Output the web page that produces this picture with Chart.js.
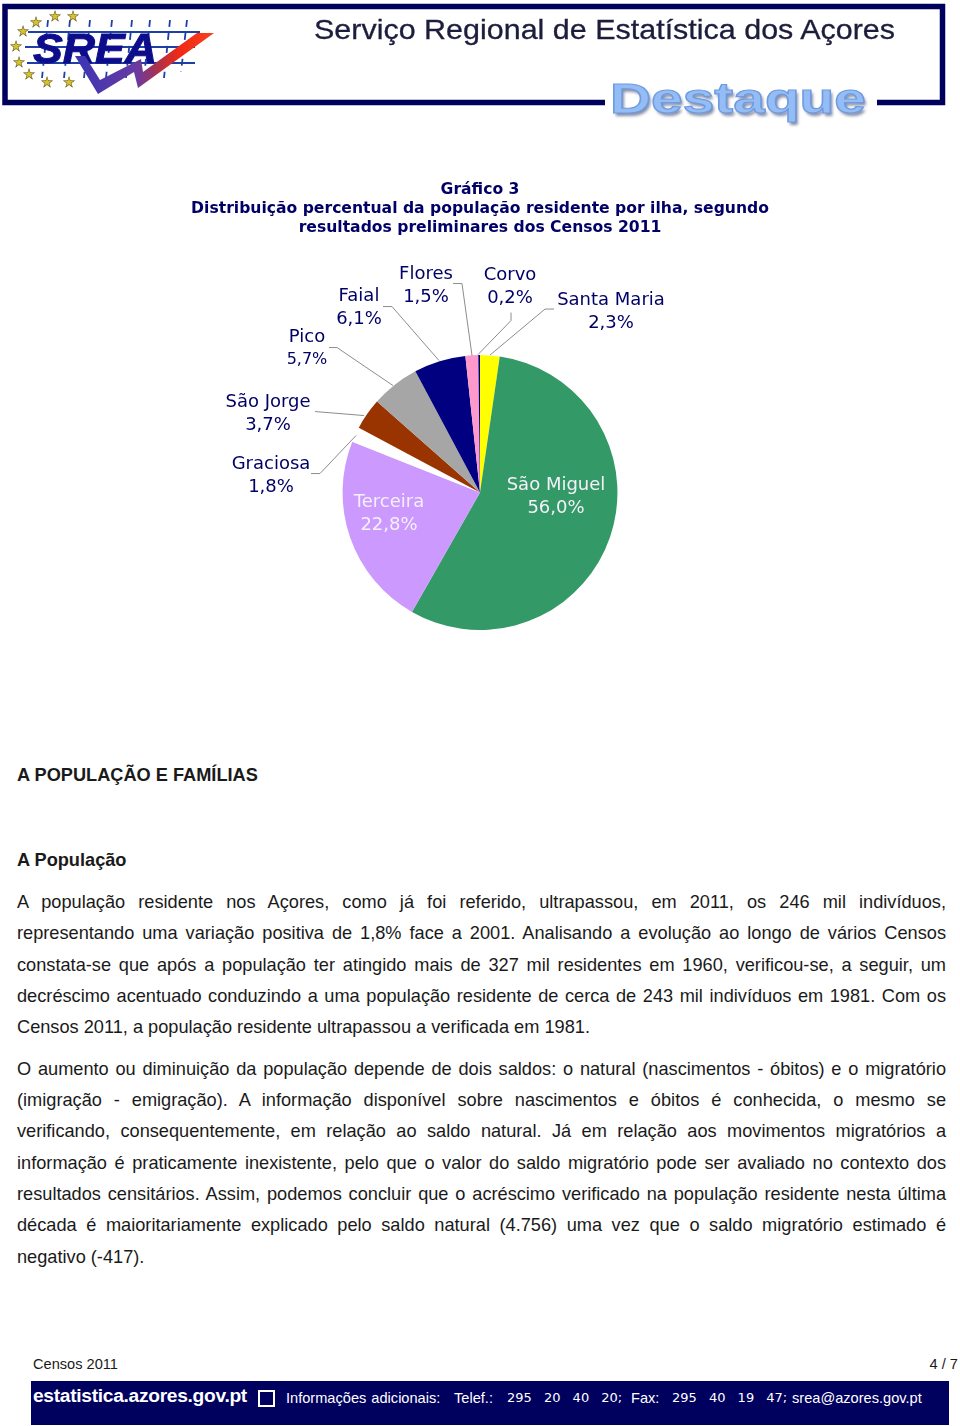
<!DOCTYPE html>
<html lang="pt"><head><meta charset="utf-8">
<script src="https://cdn.jsdelivr.net/npm/chart.js@4"></script>
<style>
html,body{margin:0;padding:0;background:#fff;width:960px;height:1426px;overflow:hidden}
body{position:relative;font-family:"Liberation Sans",Arial,sans-serif;color:#1a1a1a}
.abs{position:absolute;white-space:nowrap}
#txt{position:absolute;left:0;top:1px;width:960px}
.ln{position:absolute;left:17px;width:929px;font-size:18.2px;line-height:24px;white-space:normal;text-align:justify;text-align-last:justify;height:24px;overflow:visible}
.ln.end{text-align:left;text-align-last:left}
h2{position:absolute;left:17px;margin:0;font-size:18.2px;line-height:24px;font-weight:bold}
#chartBox{position:absolute;left:0;top:170px;width:960px;height:480px}
.ft{position:absolute;top:1389px;color:#fff;font-size:14.6px;line-height:18px;white-space:nowrap}
.ft.num{font-family:"DejaVu Sans";font-size:13px;word-spacing:8px}
</style></head><body>
<svg class="abs" style="left:0;top:0" width="960" height="135" xmlns="http://www.w3.org/2000/svg">
<defs>
<linearGradient id="chk" gradientUnits="userSpaceOnUse" x1="75" x2="214" y1="0" y2="0"><stop offset="0" stop-color="#3b35b4"/><stop offset=".45" stop-color="#6a3aa0"/><stop offset=".6" stop-color="#b03048"/><stop offset=".75" stop-color="#f02a18"/><stop offset="1" stop-color="#f8401c"/></linearGradient>
<filter id="sh" x="-5%" y="-20%" width="110%" height="150%"><feGaussianBlur stdDeviation="1.6"/></filter>
<filter id="soft"><feGaussianBlur stdDeviation=".45"/></filter>
</defs>
<rect x="5" y="6.5" width="937.5" height="96" fill="#fff" stroke="#00005e" stroke-width="5.5"/>
<rect x="605" y="96" width="272" height="14" fill="#fff"/>
<g filter="url(#soft)">
<g stroke="#1d3fa6" stroke-width="1.8" fill="none">
<path d="M28 32H200M25 47H195M27 63H195"/>
<path stroke-dasharray="7 6" d="M48 20L42 78M70 20L64 78M90 20L84 78M112 20L106 78M132 20L126 78M150 20L144 78M170 20L164 78M187 20L181 72"/>
</g>
<text x="33" y="63" font-family="Liberation Sans" font-weight="bold" font-style="italic" font-size="42" fill="#10108c" stroke="#10108c" stroke-width="1" textLength="124" lengthAdjust="spacingAndGlyphs">SREA</text>
<polygon points="75,56 85,56 100,80 141,59 143,72 197,33 214,33 138,88 134,72 98,94" fill="url(#chk)"/>
<g fill="#d8c22a" stroke="#5a5020" stroke-width=".5" font-family="DejaVu Sans" font-size="14" text-anchor="middle">
<text x="36" y="27">★</text><text x="55" y="21">★</text><text x="73" y="21">★</text><text x="23" y="36">★</text><text x="16" y="51">★</text><text x="19" y="67">★</text><text x="29" y="79">★</text><text x="47" y="87">★</text><text x="69" y="87">★</text>
</g>
<text x="314" y="39" font-family="Liberation Sans" font-size="28" fill="#1c1c3c" stroke="#1c1c3c" stroke-width=".3" textLength="581" lengthAdjust="spacingAndGlyphs">Serviço Regional de Estatística dos Açores</text>
</g>
<text x="612" y="116" font-family="Liberation Sans" font-weight="bold" font-size="43" fill="#33406a" opacity=".6" filter="url(#sh)" textLength="256" lengthAdjust="spacingAndGlyphs">Destaque</text>
<text x="610" y="113" font-family="Liberation Sans" font-weight="bold" font-size="43" fill="#93bdf4" stroke="#6f9ae0" stroke-width="1.2" textLength="256" lengthAdjust="spacingAndGlyphs">Destaque</text>
</svg>

<div id="chartBox"><canvas id="c" width="960" height="480"></canvas></div>

<div id="txt">
<h2 style="top:762px">A POPULAÇÃO E FAMÍLIAS</h2>
<h2 style="top:847px">A População</h2>
<div class="ln" style="top:889px">A população residente nos Açores, como já foi referido, ultrapassou, em 2011, os 246 mil indivíduos,</div>
<div class="ln" style="top:920px">representando uma variação positiva de 1,8% face a 2001. Analisando a evolução ao longo de vários Censos</div>
<div class="ln" style="top:952px">constata-se que após a população ter atingido mais de 327 mil residentes em 1960, verificou-se, a seguir, um</div>
<div class="ln" style="top:983px">decréscimo acentuado conduzindo a uma população residente de cerca de 243 mil indivíduos em 1981. Com os</div>
<div class="ln end" style="top:1014px">Censos 2011, a população residente ultrapassou a verificada em 1981.</div>
<div class="ln" style="top:1056px">O aumento ou diminuição da população depende de dois saldos: o natural (nascimentos - óbitos) e o migratório</div>
<div class="ln" style="top:1087px">(imigração - emigração). A informação disponível sobre nascimentos e óbitos é conhecida, o mesmo se</div>
<div class="ln" style="top:1118px">verificando, consequentemente, em relação ao saldo natural. Já em relação aos movimentos migratórios a</div>
<div class="ln" style="top:1150px">informação é praticamente inexistente, pelo que o valor do saldo migratório pode ser avaliado no contexto dos</div>
<div class="ln" style="top:1181px">resultados censitários. Assim, podemos concluir que o acréscimo verificado na população residente nesta última</div>
<div class="ln" style="top:1212px">década é maioritariamente explicado pelo saldo natural (4.756) uma vez que o saldo migratório estimado é</div>
<div class="ln end" style="top:1244px">negativo (-417).</div>
</div>

<div class="abs" style="left:33px;top:1355px;font-size:14.6px;line-height:18px">Censos 2011</div>
<div class="abs" style="right:2px;top:1355px;font-size:14.6px;line-height:18px">4 / 7</div>
<div class="abs" style="left:31px;top:1381px;width:918px;height:44px;background:#00005e"></div>
<div class="abs" style="left:33px;top:1384px;color:#fff;font-size:19.2px;line-height:24px;font-weight:bold;letter-spacing:-.3px">estatistica.azores.gov.pt</div>
<div class="abs" style="left:258px;top:1390px;width:13px;height:13px;border:2px solid #fff"></div>
<div class="ft" style="left:286px;word-spacing:1px">Informações adicionais:</div>
<div class="ft" style="left:454px">Telef.:</div>
<div class="ft num" style="left:507px">295 20 40 20;</div>
<div class="ft" style="left:631px">Fax:</div>
<div class="ft num" style="left:672px">295 40 19 47;</div>
<div class="ft" style="left:792px">srea@azores.gov.pt</div>

<script>
const categories = ["Santa Maria","São Miguel","Terceira","Graciosa","São Jorge","Pico","Faial","Flores","Corvo"];
const shares = [2.3,56.0,22.8,1.8,3.7,5.7,6.1,1.5,0.2];
const sliceColors = ["#FFFF00","#339966","#CC99FF","#FFFFFF","#993300","#A6A6A6","#000080","#FF99CC","#000080"];
const titleLines = ["Gráfico 3","Distribuição percentual da população residente por ilha, segundo","resultados preliminares dos Censos 2011"];

// Label placement relative to the pie centre: text centre and leader-line bend/end points
const labelLayout = [
 {tx:131,ty:-183,bend:[65,-183.5],end:[74,-183.5],tip:[10,-137.5]},
 {tx:76,ty:2,light:true},
 {tx:-91,ty:19,light:true},
 {tx:-209,ty:-19,bend:[-160,-19],end:[-169,-19],tip:[-124,-57]},
 {tx:-212,ty:-81,end:[-165,-81],tip:[-116,-77]},
 {tx:-173,ty:-146,bend:[-143,-145],end:[-151,-145],tip:[-87,-107],valueSize:16},
 {tx:-121,ty:-187,bend:[-88,-186],end:[-97,-186],tip:[-41,-132]},
 {tx:-54,ty:-209,bend:[-18,-209],end:[-27,-209],tip:[-8,-137]},
 {tx:30,ty:-208,bend:[31,-172],end:[31,-180],tip:[-2,-138]}
];
const fmt = v => v.toFixed(1).replace(".",",") + "%";

const pieLabels = {
 id:"pieLabels",
 afterDatasetsDraw(chart){
  const {ctx} = chart;
  const arc = chart.getDatasetMeta(0).data[0];
  const cx = arc.x, cy = arc.y;
  ctx.save();
  ctx.lineWidth = 1; ctx.strokeStyle = "#8c8c8c";
  labelLayout.forEach(l=>{
    if(!l.tip) return;
    ctx.beginPath();
    ctx.moveTo(cx+l.tip[0],cy+l.tip[1]);
    if(l.bend) ctx.lineTo(cx+l.bend[0],cy+l.bend[1]);
    ctx.lineTo(cx+l.end[0],cy+l.end[1]);
    ctx.stroke();
  });
  ctx.textAlign = "center"; ctx.textBaseline = "middle";
  labelLayout.forEach((l,i)=>{
    ctx.fillStyle = l.light ? "#f4f0fa" : "#000066";
    ctx.font = '18px "DejaVu Sans"';
    ctx.fillText(categories[i],cx+l.tx,cy+l.ty-9.5);
    ctx.font = (l.valueSize || 18) + 'px "DejaVu Sans"';
    ctx.fillText(fmt(shares[i]),cx+l.tx,cy+l.ty+13.5);
  });
  ctx.restore();
 }
};

new Chart(document.getElementById("c"),{
 type:"pie",
 data:{labels:categories,datasets:[{data:shares,backgroundColor:sliceColors,borderWidth:0}]},
 options:{
  responsive:false,animation:false,devicePixelRatio:1,
  layout:{padding:{top:0,bottom:20,left:0,right:0}},
  plugins:{
   legend:{display:false},tooltip:{enabled:false},
   title:{display:true,text:titleLines,color:"#000066",font:{family:"DejaVu Sans",size:15.6,weight:"bold",lineHeight:1.22},padding:{top:10,bottom:118}}
  }
 },
 plugins:[pieLabels]
});
</script>
</body></html>
